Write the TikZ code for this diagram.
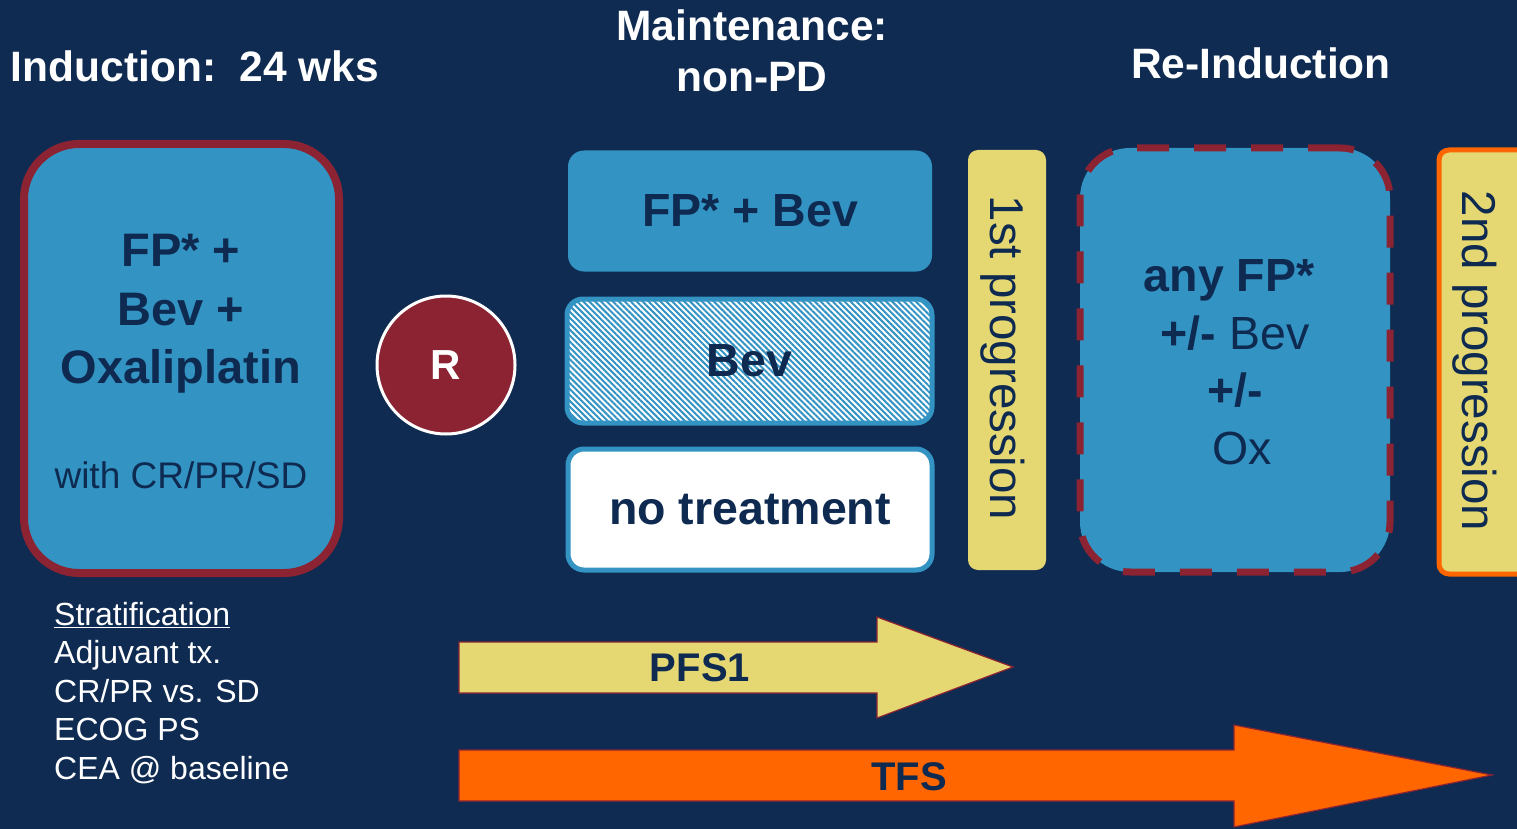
\documentclass[tikz,border=0pt]{standalone}
\usepackage{fontspec}
\setmainfont{Liberation Sans}
\usetikzlibrary{patterns.meta}
\definecolor{bg}{HTML}{0F2B52}
\definecolor{boxblue}{HTML}{3393C3}
\definecolor{navy}{HTML}{0E2A50}
\definecolor{darkred}{HTML}{8B2332}
\definecolor{yel}{HTML}{E5D873}
\definecolor{orng}{HTML}{FF6600}
\newcommand{\fsz}[2]{\fontsize{#1}{#2}\selectfont}
\begin{document}
\begin{tikzpicture}[x=1pt,y=-1pt,
  title/.style={text=white,font=\fsz{42.5}{51}\bfseries,align=center,inner sep=0},
  bigbox/.style={draw=darkred,line width=8pt,fill=boxblue,rounded corners=55pt,inner sep=0,minimum width=315pt,minimum height=429pt},
  armbox/.style={rounded corners=16pt,inner sep=0,minimum width=364pt,minimum height=122pt,text=navy,font=\fsz{46.5}{55}\bfseries},
  progbox/.style={fill=yel,rounded corners=10pt,inner sep=0,minimum width=78pt,minimum height=420pt},
  progtext/.style={rotate=-90,text=navy,font=\fsz{47.5}{56},inner sep=0},
  strat/.style={text=white,font=\fsz{32}{38.5},align=left,inner sep=0,anchor=north west},
  arrowshape/.style={draw=darkred,line width=1.2pt},
  arrowlabel/.style={text=navy,font=\fsz{40}{48}\bfseries,inner sep=0}
]
\fill[bg] (0,0) rectangle (1517,829);
\useasboundingbox (0,0) rectangle (1517,829);

% titles
\node[title] (tind) at (195,66) {Induction:\ \ 24 wks};
\node[title] (tmain) at (752,51) {Maintenance:\\non-PD};
\node[title] (treind) at (1261,63) {Re-Induction};

% induction box
\node[bigbox] (ind) at (181.5,358.5) {};
\node[text=navy,font=\fsz{47}{58.5}\bfseries,align=center,inner sep=0] (indtxt) at (181,314) {FP* +\\Bev +\\Oxaliplatin};
\node[text=navy,font=\fsz{37}{44},inner sep=0] (indsub) at (181,475) {with CR/PR/SD};

% randomisation
\node[circle,fill=darkred,draw=white,line width=3pt,minimum size=138pt,inner sep=0,text=white,font=\fsz{42}{49}\bfseries] (R) at (446,365) {R};

% maintenance arms
\node[armbox,fill=boxblue,minimum width=364pt,minimum height=121pt] (arm1) at (750,211) {FP* + Bev};
\node[armbox,draw=boxblue,line width=5pt,preaction={fill=white},
      pattern={Lines[angle=-45,distance=4.2pt,line width=2pt]},pattern color=boxblue,
      minimum width=365pt,minimum height=124pt] (arm2) at (749.5,361) {Bev};
\node[armbox,draw=boxblue,line width=5pt,fill=white,
      minimum width=364pt,minimum height=121pt] (arm3) at (750,509.5) {no treatment};

% 1st progression
\node[progbox] (p1) at (1007,360) {};
\node[progtext] (p1t) at (1003,358) {1st progression};

% re-induction box
\node[bigbox,draw=darkred,dash pattern=on 32pt off 25pt,line width=7pt,rounded corners=50pt,
      minimum width=310pt,minimum height=424pt] (reind) at (1235,360) {};
\node[text=navy,font=\fsz{46.5}{57.5},align=center,inner sep=0] (reindtxt) at (1235,362)
  {\textbf{any FP*}\hspace*{12pt}\\\textbf{+/-} Bev\\\textbf{+/-}\\\hspace*{14pt}Ox};

% 2nd progression
\node[progbox,draw=orng,line width=5pt,minimum width=90pt,minimum height=424pt] (p2) at (1484,362) {};
\node[progtext] (p2t) at (1475,361) {2nd progression};

% stratification
\node[strat] (strat) at (54,602) {\underline{Stratification}\\Adjuvant tx.\\CR/PR vs. SD\\ECOG PS\\CEA @ baseline};

% PFS1 arrow
\coordinate (pfsA) at (459,642);
\filldraw[arrowshape,fill=yel] (pfsA) -- (877,642) -- (877,617) -- (1013,667) -- (877,718) -- (877,693) -- (459,693) -- cycle;
\node[arrowlabel] (pfs) at (700,668) {PFS1};

% TFS arrow
\coordinate (tfsA) at (459,750);
\filldraw[arrowshape,fill=orng] (tfsA) -- (1234,750) -- (1234,725) -- (1492,775) -- (1234,827) -- (1234,801) -- (459,801) -- cycle;
\node[arrowlabel] (tfs) at (909,777) {TFS};
\end{tikzpicture}
\end{document}
